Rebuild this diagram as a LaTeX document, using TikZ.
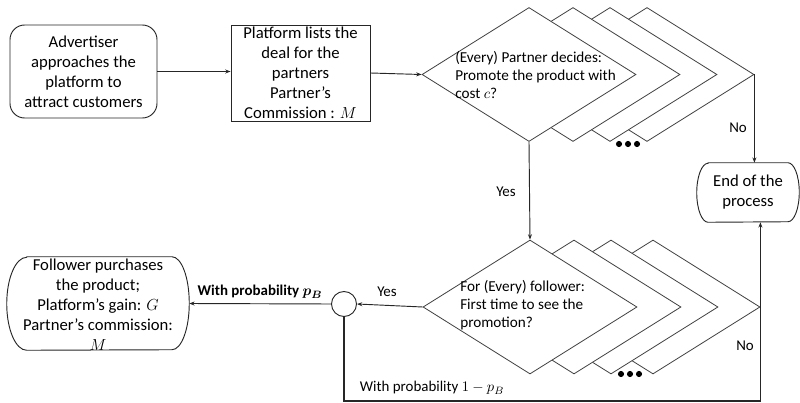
\documentclass[tikz,border=0pt]{standalone}
\usepackage{fontspec}
\setmainfont{Carlito}
\usetikzlibrary{shapes.geometric,arrows.meta,calc}
\begin{document}
\begin{tikzpicture}[x=0.75pt,y=-0.75pt,
  boxtxt/.style={font=\fontsize{12.5}{15}\selectfont, align=center, inner sep=0pt},
  dtxt/.style={font=\fontsize{11.4}{13.7}\selectfont, align=left, inner sep=0pt, anchor=west},
  lbl/.style={font=\fontsize{11.2}{13.5}\selectfont, inner sep=0pt},
  dia/.style={diamond, draw=black!75, fill=white, line width=0.6pt, minimum width=160.5pt, minimum height=100.5pt, inner sep=0pt},
  outl/.style={draw=black!85, line width=0.7pt},
  conn/.style={draw=black!85, line width=0.7pt, -{Stealth[length=4pt,width=3pt]}},
  dots/.style={fill=black}
]
\useasboundingbox (0,0) rectangle (800,403);

% top row
\node[outl, rounded corners=11pt, minimum width=110.25pt, minimum height=69.75pt, boxtxt] (adv) at (83.5,71.5) {Advertiser\\approaches the\\platform to\\attract customers};
\node[outl, minimum width=104.25pt, minimum height=72pt, inner sep=0pt] (plat) at (300.5,73) {};
\node[boxtxt] (plattxt) at (plat.center) {Platform lists the\\deal for the\\partners\\Partner’s\\Commission : $M$};

% top diamond stack
\node[dia] (d1d) at (647,74.5) {};
\node[dia] (d1c) at (610,74.5) {};
\node[dia] (d1b) at (573,74.5) {};
\node[dia] (d1) at (529,74.5) {};
\node[dtxt] (t1) at (455,75) {(Every) Partner decides:\\Promote the product with\\cost $c$?};
\foreach \x in {619,628,637} \fill[dots] (\x,144) circle (2.3pt);

% bottom diamond stack
\node[dia] (d2d) at (653,307) {};
\node[dia] (d2c) at (611,307) {};
\node[dia] (d2b) at (574,307) {};
\node[dia] (d2) at (530,307) {};
\node[dtxt] (t2) at (460,305) {For (Every) follower:\\First time to see the\\promotion?};
\foreach \x in {621,630,639} \fill[dots] (\x,374) circle (2.3pt);

% end box
\node[minimum width=76.5pt, minimum height=44.25pt, boxtxt] (end) at (748,192.5) {End of the\\process};
\draw[outl] ([xshift=8.5pt]end.north west) -- ([xshift=-8.5pt]end.north east)
  arc[start angle=90, end angle=-90, x radius=8.5pt, y radius=22.125pt]
  -- ([xshift=8.5pt]end.south west)
  arc[start angle=270, end angle=90, x radius=8.5pt, y radius=22.125pt] -- cycle;

% circle
\node[circle, outl, minimum size=18.75pt, inner sep=0pt] (circ) at (344,304) {};

% follower box
\node[minimum width=136.5pt, minimum height=69.75pt, inner sep=0pt] (fol) at (98,303.5) {};
\draw[outl] ([xshift=15pt]fol.north west) -- ([xshift=-13pt]fol.north east)
  arc[start angle=90, end angle=-90, x radius=13pt, y radius=34.875pt]
  -- ([xshift=15pt]fol.south west)
  arc[start angle=270, end angle=90, x radius=15pt, y radius=34.875pt] -- cycle;
\node[boxtxt] (foltxt) at (98,305) {Follower purchases\\the product;\\Platform’s gain: $G$\\Partner’s commission:\\$M$};

% connectors
\coordinate (bot) at (0,401);
\draw[conn] (adv.east) -- (adv.east -| plat.west);
\draw[conn] (plat.east) -- (d1.west);
\draw[conn] (d1.south) -- (d2.north);
\draw[conn] (d1d.east) -- (d1d.east |- end.north);
\draw[conn] (d2.west) -- (circ.east);
\draw[conn] (circ.west) -- (fol.east);
\draw[conn, line width=0.9pt] (circ.south) |- (d2d.east |- bot) -- (d2d.east |- end.south);

% labels
\node[lbl] (no1) at (738,128) {No};
\node[lbl] (yes1) at (506,192) {Yes};
\node[lbl] (no2) at (745,346) {No};
\node[lbl] (yes2) at (387,292) {Yes};
\node[lbl, font=\fontsize{11.2}{13.5}\selectfont\bfseries\boldmath] (pb) at (260,292) {With probability $p_B$};
\node[lbl] (pb2) at (432,388) {With probability $1-p_B$};
\end{tikzpicture}
\end{document}
